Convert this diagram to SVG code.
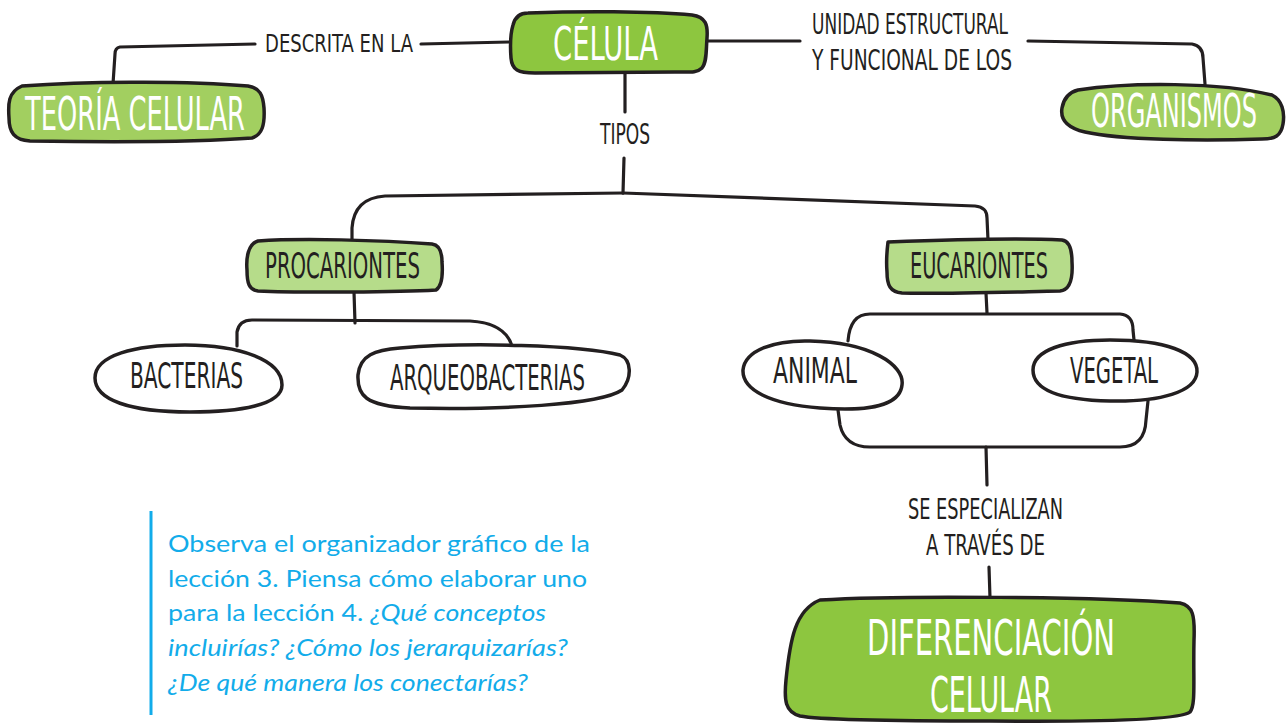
<svg xmlns="http://www.w3.org/2000/svg" width="1287" height="725" viewBox="0 0 1287 725">
<style>
.shape{stroke:#231f20;stroke-width:3.5;stroke-linejoin:round}
.g1{fill:#8dc63f}.g2{fill:#a2cf60}.g3{fill:#b6dc8a}.w{fill:#fff}
.con{fill:none;stroke:#231f20;stroke-width:3.2;stroke-linecap:round;stroke-linejoin:round}
.hand{font-family:"Liberation Sans Narrow","DejaVu Sans Condensed","DejaVu Sans",sans-serif;font-stretch:condensed}
.wt{fill:#fff}.dk{fill:#231f20}
.note{font-family:Lato,"Open Sans",sans-serif;font-size:24px;fill:#12acea}
</style>
<rect width="1287" height="725" fill="#fff"/>
<g id="connectors">
<path class="con" d="M509,42 L421,44"/>
<path class="con" d="M255,44 L120,47 Q115,48 115,54 L113,84"/>
<path class="con" d="M707,41 L800,41"/>
<path class="con" d="M1028,41 L1192,44 Q1203,46 1203,58 L1205,84"/>
<path class="con" d="M625,73 L625,112"/>
<path class="con" d="M624,158 L623,193"/>
<path class="con" d="M623,193 L385,196 Q354,198 352,228 L352,240"/>
<path class="con" d="M623,193 L975,206 Q987,207 987,218 L988,240"/>
<path class="con" d="M354,292 L355,323"/>
<path class="con" d="M237,346 L237,332 Q239,320 252,320 L470,321 Q505,323 512,346"/>
<path class="con" d="M986,293 L987,313"/>
<path class="con" d="M848,341 Q850,314 870,314 L1120,314 Q1133,315 1133,330 L1134,340"/>
<path class="con" d="M838,410 L840,425 Q845,447 870,447 L1120,447 Q1145,447 1146,420 L1148,401"/>
<path class="con" d="M986,447 L987,485"/>
<path class="con" d="M989,567 L990,598"/>
</g>
<g id="celula">
<path class="shape g1" d="M528,13 C580,11 650,11 692,15 C706,17 708,25 707,38 C706,50 707,62 702,68 C697,73 690,72 675,72 L535,73 C518,73 512,70 511,58 C510,45 510,35 513,25 C515,17 520,13 528,13 Z"/>
<text class="hand wt" x="553" y="60" font-size="47" textLength="105" lengthAdjust="spacingAndGlyphs">CÉLULA</text>
</g>
<g id="teoria">
<path class="shape g2" d="M22,86 C80,82 180,80 248,86 C260,88 263,95 264,108 C265,125 262,135 252,138 C200,142 100,142 30,141 C14,140 9,132 9,118 C8,104 8,92 22,86 Z"/>
<text class="hand wt" x="25" y="130" font-size="46" textLength="220" lengthAdjust="spacingAndGlyphs">TEORÍA CELULAR</text>
</g>
<g id="organismos">
<path class="shape g2" d="M1078,90 C1130,82 1220,82 1272,95 C1282,100 1285,112 1283,124 C1281,136 1275,139 1262,139 C1200,141 1120,140 1085,132 C1068,128 1060,120 1062,108 C1064,97 1070,92 1078,90 Z"/>
<text class="hand wt" x="1091" y="127" font-size="46" textLength="166" lengthAdjust="spacingAndGlyphs">ORGANISMOS</text>
</g>
<g id="labels">
<text class="hand dk" x="265" y="52" font-size="25" textLength="148" lengthAdjust="spacingAndGlyphs">DESCRITA EN LA</text>
<text class="hand dk" x="812" y="34" font-size="28" textLength="196" lengthAdjust="spacingAndGlyphs">UNIDAD ESTRUCTURAL</text>
<text class="hand dk" x="812" y="70" font-size="28" textLength="200" lengthAdjust="spacingAndGlyphs">Y FUNCIONAL DE LOS</text>
<text class="hand dk" x="600" y="144" font-size="28" textLength="50" lengthAdjust="spacingAndGlyphs">TIPOS</text>
<text class="hand dk" x="908" y="519" font-size="28" textLength="155" lengthAdjust="spacingAndGlyphs">SE ESPECIALIZAN</text>
<text class="hand dk" x="926" y="555" font-size="28" textLength="119" lengthAdjust="spacingAndGlyphs">A TRAVÉS DE</text>
</g>
<g id="procariontes">
<path class="shape g3" d="M258,241 C300,238 380,240 432,244 C440,245 442,252 442,262 C443,275 442,286 436,290 C400,292 300,293 258,291 C249,290 247,283 247,270 C246,258 248,244 258,241 Z"/>
<text class="hand dk" x="265" y="278" font-size="35" textLength="155" lengthAdjust="spacingAndGlyphs">PROCARIONTES</text>
</g>
<g id="eucariontes">
<path class="shape g3" d="M888,242 C940,240 1020,238 1062,240 C1070,241 1072,250 1072,262 C1073,278 1070,290 1060,291 C1010,292 940,294 902,293 C890,292 887,285 887,272 C886,260 887,250 888,242 Z"/>
<text class="hand dk" x="910" y="278" font-size="35" textLength="138" lengthAdjust="spacingAndGlyphs">EUCARIONTES</text>
</g>
<g id="bacterias">
<path class="shape w" d="M185,345 C240,345 282,360 282,385 C282,405 240,412 190,412 C130,412 95,400 95,378 C95,355 135,345 185,345 Z"/>
<text class="hand dk" x="130" y="388" font-size="35" textLength="113" lengthAdjust="spacingAndGlyphs">BACTERIAS</text>
</g>
<g id="arqueobacterias">
<path class="shape w" d="M400,348 C470,342 580,345 620,355 C632,360 632,378 622,390 C600,405 500,410 410,408 C365,406 357,395 358,375 C360,355 375,350 400,348 Z"/>
<text class="hand dk" x="390" y="390" font-size="35" textLength="195" lengthAdjust="spacingAndGlyphs">ARQUEOBACTERIAS</text>
</g>
<g id="animal">
<path class="shape w" d="M810,341 C870,342 905,365 902,385 C900,405 870,412 820,408 C770,404 742,390 743,370 C745,350 775,340 810,341 Z"/>
<text class="hand dk" x="773" y="383" font-size="35" textLength="84" lengthAdjust="spacingAndGlyphs">ANIMAL</text>
</g>
<g id="vegetal">
<path class="shape w" d="M1110,340 C1165,340 1198,352 1197,372 C1196,392 1160,402 1110,401 C1060,400 1033,390 1033,370 C1033,350 1065,340 1110,340 Z"/>
<text class="hand dk" x="1070" y="383" font-size="35" textLength="88" lengthAdjust="spacingAndGlyphs">VEGETAL</text>
</g>
<g id="diferenciacion">
<path class="shape g1" d="M820,600 C900,595 1100,597 1180,603 C1193,606 1195,615 1194,640 C1193,680 1196,705 1190,712 C1180,720 1100,722 990,721 C900,721 820,720 800,716 C785,712 784,700 786,680 C790,640 795,610 820,600 Z"/>
<text class="hand wt" x="867" y="655" font-size="49" textLength="248" lengthAdjust="spacingAndGlyphs">DIFERENCIACIÓN</text>
<text class="hand wt" x="930" y="712" font-size="49" textLength="122" lengthAdjust="spacingAndGlyphs">CELULAR</text>
</g>
<g id="nota">
<line x1="151" y1="511" x2="151" y2="715" stroke="#12acea" stroke-width="3"/>
<text class="note" x="168" y="552" textLength="422" lengthAdjust="spacingAndGlyphs">Observa el organizador gráfico de la</text>
<text class="note" x="168" y="587" textLength="419" lengthAdjust="spacingAndGlyphs">lección 3. Piensa cómo elaborar uno</text>
<text class="note" x="168" y="621" textLength="378" lengthAdjust="spacingAndGlyphs">para la lección 4. <tspan font-style="italic">¿Qué conceptos</tspan></text>
<text class="note" x="168" y="656" font-style="italic" textLength="400" lengthAdjust="spacingAndGlyphs">incluirías? ¿Cómo los jerarquizarías?</text>
<text class="note" x="168" y="691" font-style="italic" textLength="360" lengthAdjust="spacingAndGlyphs">¿De qué manera los conectarías?</text>
</g>
</svg>
